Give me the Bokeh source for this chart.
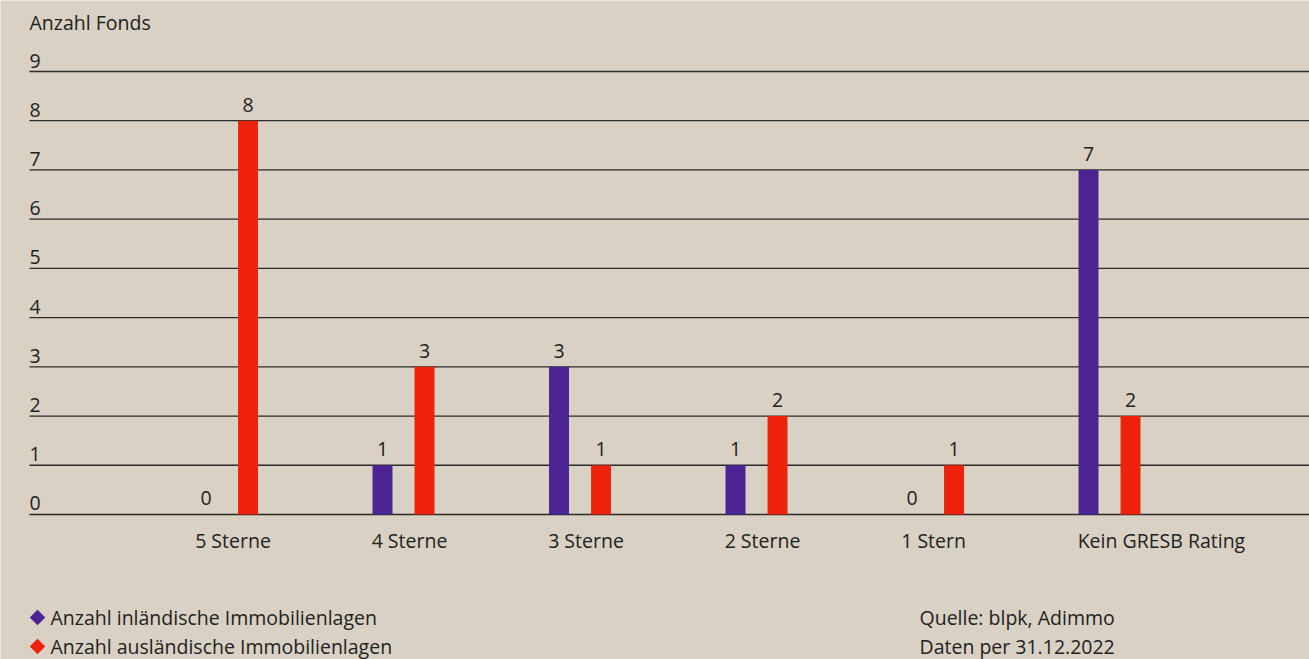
from bokeh.plotting import figure
from bokeh.models import ColumnDataSource, Range1d, Label
from bokeh.core.properties import value
from bokeh.embed import file_html
from bokeh.resources import INLINE
import numpy as np

# --- data -------------------------------------------------------------
categories = ["5 Sterne", "4 Sterne", "3 Sterne", "2 Sterne", "1 Stern", "Kein GRESB Rating"]
inland = [0, 1, 3, 1, 0, 7]
ausland = [8, 3, 1, 2, 1, 2]
y_ticks = [0, 1, 2, 3, 4, 5, 6, 7, 8, 9]
y_tick_labels = ["0", "1", "2", "3", "4", "5", "6", "7", "8", "9"]
y_title = "Anzahl Fonds"
series_names = ["Anzahl inländische Immobilienlagen", "Anzahl ausländische Immobilienlagen"]
source_note = ["Quelle: blpk, Adimmo", "Daten per 31.12.2022"]

# --- style ------------------------------------------------------------
BG = "#d9d1c3"
PURPLE = "#4b2392"
RED = "#ee220c"
INK = "#222222"
FONT = "Open Sans"
FS = "19.5px"

W, H = 1309, 659
INSET = 29                       # left inset of rules, tick labels and texts
X_RULE, X_END = -1.119, 6.133    # rules run from X_RULE to the right edge
PX_X = (W - INSET) / (X_END - X_RULE)
X_START = X_RULE - INSET / PX_X
Y_START, Y_END = -2.946, 10.4425
PX_Y = H / (Y_END - Y_START)
BAR_W = 0.113
OFF = 0.119

p = figure(width=W, height=H, output_backend="svg", toolbar_location=None,
           x_axis_type=None, y_axis_type=None,
           x_range=Range1d(X_START, X_END), y_range=Range1d(Y_START, Y_END),
           min_border=0,
           background_fill_color=BG, border_fill_color=BG, outline_line_color=None)

# horizontal rules at each tick value
p.segment(x0=[X_RULE] * len(y_ticks), x1=[X_END] * len(y_ticks), y0=y_ticks, y1=y_ticks,
          line_color="#2b2b2b", line_width=1.3)

idx = np.arange(len(categories))
src = ColumnDataSource(dict(
    x_in=idx - OFF, x_out=idx + OFF, x_cat=idx - OFF - BAR_W / 2 - 0.005,
    inland=inland, ausland=ausland,
    lab_in=[str(v) for v in inland], lab_out=[str(v) for v in ausland],
    cat=categories, zero=[0] * len(categories),
))

p.vbar(x="x_in", top="inland", bottom=0, width=BAR_W, source=src,
       fill_color=PURPLE, line_color=None)
p.vbar(x="x_out", top="ausland", bottom=0, width=BAR_W, source=src,
       fill_color=RED, line_color=None)

# value labels above the bars
for xcol, ycol, lcol in (("x_in", "inland", "lab_in"), ("x_out", "ausland", "lab_out")):
    p.text(x=xcol, y=ycol, text=lcol, source=src, text_align="center",
           text_baseline="middle", y_offset=-16, text_color=INK,
           text_font=value(FONT), text_font_size=FS)

# category labels below the baseline
p.text(x="x_cat", y="zero", text="cat", source=src, text_align="left",
       text_baseline="middle", y_offset=26, text_color=INK,
       text_font=value(FONT), text_font_size=FS)

# y tick labels sitting on the rules
tick_src = ColumnDataSource(dict(x=[X_RULE] * len(y_ticks), y=y_ticks, t=y_tick_labels))
p.text(x="x", y="y", text="t", source=tick_src, text_align="left",
       text_baseline="middle", y_offset=-11, text_color=INK,
       text_font=value(FONT), text_font_size=FS)

# axis title
p.add_layout(Label(x=INSET, y=H - 22, x_units="screen", y_units="screen", text=y_title,
                   text_align="left", text_baseline="middle", text_color=INK,
                   text_font=FONT, text_font_size=FS))

# legend: diamond markers followed by series names
leg_rows_px = [617, 646]
leg_src = ColumnDataSource(dict(
    x=[X_RULE + 8 / PX_X] * 2,
    y=[Y_START + (H - r) / PX_Y for r in leg_rows_px],
    c=[PURPLE, RED],
))
p.scatter(x="x", y="y", source=leg_src, marker="square", angle=np.pi / 4,
          size=11, fill_color="c", line_color=None)
for r, name in zip(leg_rows_px, series_names):
    p.add_layout(Label(x=INSET + 21, y=H - r, x_units="screen", y_units="screen", text=name,
                       text_align="left", text_baseline="middle", text_color=INK,
                       text_font=FONT, text_font_size=FS))

# source notes
for r, t in zip(leg_rows_px, source_note):
    p.add_layout(Label(x=INSET + 890, y=H - r, x_units="screen", y_units="screen", text=t,
                       text_align="left", text_baseline="middle", text_color=INK,
                       text_font=FONT, text_font_size=FS))

open("out.html", "w").write(file_html(p, INLINE))
